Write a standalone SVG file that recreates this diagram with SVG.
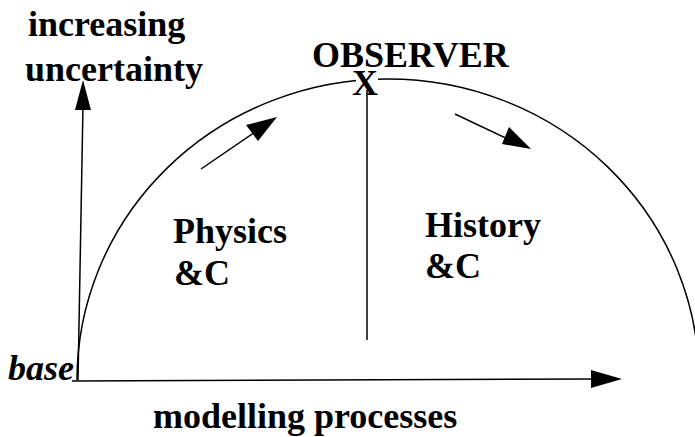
<svg xmlns="http://www.w3.org/2000/svg" width="695" height="437" viewBox="0 0 695 437">
<style>
.t{font-family:"Liberation Serif","Times New Roman",serif;font-weight:bold;font-size:36px;fill:#000}
.i{font-style:italic}
.l{fill:none;stroke:#000;stroke-width:1.5}
.h{fill:#000;stroke:none}
</style>
<rect width="695" height="437" fill="#fff"/>
<g id="connectors">
<path id="arc" class="l" d="M77 380 A311 301 0 0 1 699 380"/>
<line id="y-axis" class="l" x1="78" y1="380" x2="83" y2="105"/>
<polygon class="h" points="83,80 75,110 91,110"/>
<line id="x-axis" class="l" x1="72" y1="381" x2="595" y2="379"/>
<polygon class="h" points="622,379 591,370 591,388"/>
<line id="observer-line" class="l" x1="367" y1="90" x2="367" y2="340"/>
<line class="l" x1="201" y1="169" x2="258" y2="130"/>
<polygon class="h" points="277,117 246,125 258,141"/>
<line class="l" x1="455" y1="114" x2="510" y2="140"/>
<polygon class="h" points="531,149 509,127 502,144"/>
</g>
<g id="y-label"><text class="t" x="28" y="36">increasing</text><text class="t" x="25" y="81">uncertainty</text></g>
<g id="observer">
<rect x="356" y="74" width="22" height="10" fill="#fff"/>
<text class="t" x="312" y="67">OBSERVER</text>
<text class="t" x="352" y="95">X</text>
</g>
<g id="physics"><text class="t" x="173" y="243">Physics</text><text class="t" x="174" y="285">&amp;C</text></g>
<g id="history"><text class="t" x="425" y="237">History</text><text class="t" x="425" y="278">&amp;C</text></g>
<g id="base"><text class="t i" x="8" y="380">base</text></g>
<g id="x-label"><text class="t" x="153" y="428">modelling processes</text></g>
</svg>
